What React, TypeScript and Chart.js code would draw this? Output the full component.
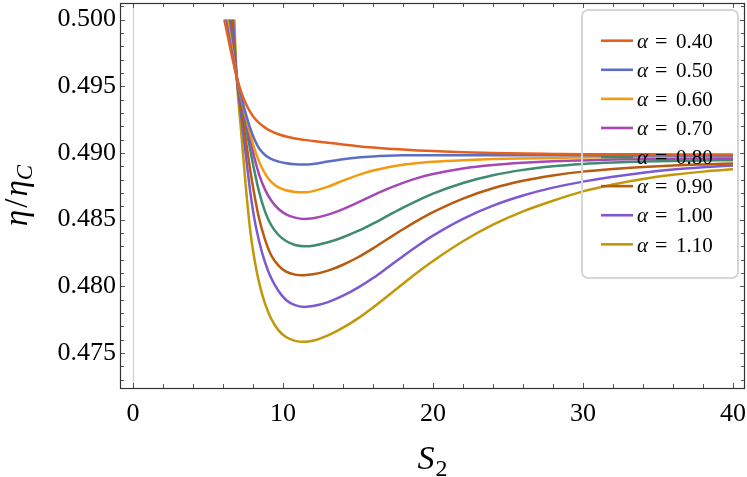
import React, { useEffect, useRef } from "react";
import { Chart, registerables } from "chart.js";

Chart.register(...registerables);

// ---- data ----
const alphaLabels = ["0.40", "0.50", "0.60", "0.70", "0.80", "0.90", "1.00", "1.10"];
const lineColors = ["#E4601E", "#5C6FC6", "#F39B0F", "#A548B5", "#3E8B6F", "#B85A10", "#7C58D4", "#C1980A"];

// S2 where each curve enters the plot at eta/eta_C = 0.500
const startS = [6.08, 6.18, 6.28, 6.38, 6.47, 6.56, 6.66, 6.75];
const START_ETA = 0.5;

// common S2 grid after the entry point
const sGrid = [6.91, 7.2, 7.5, 7.8, 8.1, 8.4, 8.8, 9.2, 9.7, 10.2, 10.8, 11.4, 12, 13, 14, 15, 16, 17, 18, 19, 20, 22, 24, 26, 28, 30, 32, 34, 36, 38, 40];

const eta040 = [0.4957, 0.4946, 0.49375, 0.4931, 0.4926, 0.49225, 0.4919, 0.49163, 0.4914, 0.49123, 0.49108, 0.49098, 0.4909, 0.49077, 0.49063, 0.4905, 0.4904, 0.49032, 0.49025, 0.49019, 0.49014, 0.49005, 0.48999, 0.48995, 0.48993, 0.48991, 0.4899, 0.4899, 0.48989, 0.48989, 0.48989];
const eta050 = [0.4957, 0.4943, 0.493, 0.4919, 0.491, 0.49035, 0.48985, 0.48955, 0.48935, 0.48923, 0.48915, 0.48913, 0.48918, 0.48936, 0.48953, 0.48966, 0.48974, 0.48979, 0.48982, 0.48983, 0.48983, 0.48983, 0.48983, 0.48982, 0.48982, 0.48982, 0.48982, 0.48981, 0.48981, 0.48981, 0.48981];
const eta060 = [0.4957, 0.4942, 0.4928, 0.4915, 0.4903, 0.48935, 0.48845, 0.48785, 0.48742, 0.4872, 0.48708, 0.48705, 0.48714, 0.48748, 0.48792, 0.48834, 0.48868, 0.48893, 0.48911, 0.48924, 0.48934, 0.48946, 0.48954, 0.48959, 0.48963, 0.48966, 0.48969, 0.48971, 0.48973, 0.48975, 0.48976];
const eta070 = [0.4957, 0.494, 0.4925, 0.491, 0.4896, 0.4884, 0.48725, 0.48645, 0.4858, 0.4854, 0.48515, 0.48505, 0.48511, 0.48538, 0.48579, 0.48629, 0.48682, 0.48732, 0.48776, 0.48813, 0.48842, 0.48884, 0.4891, 0.48926, 0.48937, 0.48944, 0.4895, 0.48954, 0.48957, 0.48959, 0.48961];
const eta080 = [0.4957, 0.4939, 0.4921, 0.4903, 0.4886, 0.4871, 0.4856, 0.4846, 0.48385, 0.4834, 0.4831, 0.48301, 0.48305, 0.4833, 0.48368, 0.48415, 0.4847, 0.4853, 0.4859, 0.48645, 0.48695, 0.48775, 0.48833, 0.48873, 0.489, 0.48917, 0.48928, 0.48935, 0.4894, 0.48943, 0.48946];
const eta090 = [0.4957, 0.4934, 0.4911, 0.4888, 0.4868, 0.4851, 0.4835, 0.48235, 0.48155, 0.4811, 0.48088, 0.48084, 0.4809, 0.48118, 0.48162, 0.48218, 0.48285, 0.48357, 0.48428, 0.48495, 0.48556, 0.48658, 0.48735, 0.48791, 0.48831, 0.4886, 0.4888, 0.48895, 0.48906, 0.48914, 0.48921];
const eta100 = [0.4957, 0.4929, 0.49, 0.4872, 0.485, 0.4834, 0.4818, 0.48065, 0.47965, 0.47898, 0.47859, 0.47846, 0.47852, 0.47882, 0.4793, 0.4799, 0.48062, 0.48143, 0.48226, 0.48306, 0.4838, 0.48506, 0.48605, 0.48681, 0.4874, 0.48785, 0.48822, 0.48852, 0.48875, 0.48892, 0.48906];
const eta110 = [0.4957, 0.4917, 0.4877, 0.4843, 0.482, 0.4803, 0.4787, 0.4776, 0.4767, 0.4762, 0.47591, 0.47584, 0.47592, 0.47632, 0.4769, 0.4776, 0.47842, 0.4793, 0.4802, 0.48108, 0.4819, 0.48338, 0.48462, 0.48562, 0.48642, 0.48712, 0.48764, 0.48805, 0.48836, 0.4886, 0.48877];

const etaSeries = [eta040, eta050, eta060, eta070, eta080, eta090, eta100, eta110];

const xTicks = [0, 10, 20, 30, 40];
const yTicks = [0.475, 0.48, 0.485, 0.49, 0.495, 0.5];

const X_MIN = -0.87;
const X_MAX = 40.8;
const Y_MIN = 0.47238;
const Y_MAX = 0.50124;

const SERIF = '"Liberation Serif", "Times New Roman", serif';

export default function App() {
  const ref = useRef<HTMLCanvasElement>(null);

  useEffect(() => {
    const canvas = ref.current;
    if (!canvas) return;

    const datasets = etaSeries.map((vals, i) => ({
      label: "α = " + alphaLabels[i],
      data: [{ x: startS[i], y: START_ETA }, ...sGrid.map((s, j) => ({ x: s, y: vals[j] }))],
      borderColor: lineColors[i],
      backgroundColor: lineColors[i],
      borderWidth: 2.5,
      pointRadius: 0,
      fill: false,
      cubicInterpolationMode: "monotone" as const,
    }));

    const decor = {
      id: "decor",
      beforeDatasetsDraw(chart: any) {
        const { ctx, chartArea: a, scales } = chart;
        const px = Math.round(scales.x.getPixelForValue(0)) + 0.5;
        ctx.save();
        ctx.strokeStyle = "#d0d0d0";
        ctx.lineWidth = 1.2;
        ctx.beginPath();
        ctx.moveTo(px, a.top);
        ctx.lineTo(px, a.bottom);
        ctx.stroke();
        ctx.restore();
      },
      afterDatasetsDraw(chart: any) {
        const { ctx, chartArea: a, scales } = chart;
        const xs = scales.x;
        const ys = scales.y;
        ctx.save();
        // ticks
        ctx.strokeStyle = "#555";
        ctx.lineWidth = 1;
        ctx.beginPath();
        for (let k = 0; k <= 20; k++) {
          const v = 2 * k;
          const len = v % 10 === 0 ? 5 : 4;
          const p = Math.round(xs.getPixelForValue(v)) + 0.5;
          ctx.moveTo(p, a.bottom);
          ctx.lineTo(p, a.bottom - len);
          ctx.moveTo(p, a.top);
          ctx.lineTo(p, a.top + len);
        }
        for (let k = 473; k <= 501; k++) {
          const v = k / 1000;
          const len = k % 5 === 0 ? 5 : 4;
          const p = Math.round(ys.getPixelForValue(v)) + 0.5;
          ctx.moveTo(a.left, p);
          ctx.lineTo(a.left + len, p);
          ctx.moveTo(a.right, p);
          ctx.lineTo(a.right - len, p);
        }
        ctx.stroke();
        // frame
        ctx.strokeStyle = "#333";
        ctx.lineWidth = 1.2;
        ctx.strokeRect(Math.round(a.left) + 0.5, Math.round(a.top) + 0.5, Math.round(a.right - a.left) - 1, Math.round(a.bottom - a.top));

        // legend
        ctx.strokeStyle = "#d6d6d6";
        ctx.lineWidth = 2;
        ctx.beginPath();
        (ctx as any).roundRect(582, 10, 156, 268, 6);
        ctx.stroke();
        for (let i = 0; i < alphaLabels.length; i++) {
          const y = 40.7 + i * 29.09;
          ctx.strokeStyle = lineColors[i];
          ctx.lineWidth = 2.6;
          ctx.beginPath();
          ctx.moveTo(601, y);
          ctx.lineTo(633, y);
          ctx.stroke();
          ctx.fillStyle = "#000";
          ctx.textBaseline = "alphabetic";
          ctx.textAlign = "left";
          ctx.font = "italic 21px " + SERIF;
          ctx.fillText("α", 637, y + 7.2);
          ctx.font = "22px " + SERIF;
          ctx.fillText("=", 655, y + 7.2);
          ctx.font = "21px " + SERIF;
          ctx.fillText(alphaLabels[i], 676, y + 7.2);
        }
        ctx.restore();
      },
      afterDraw(chart: any) {
        const { ctx, chartArea: a } = chart;
        ctx.save();
        ctx.fillStyle = "#000";
        ctx.textBaseline = "alphabetic";
        ctx.textAlign = "left";
        // x title: S_2
        const fMain = "italic 34px " + SERIF;
        const fSub = "24px " + SERIF;
        ctx.font = fMain;
        const wS = ctx.measureText("S").width;
        ctx.font = fSub;
        const w2 = ctx.measureText("2").width;
        const cx = (a.left + a.right) / 2;
        const x0 = cx - (wS + w2 + 1) / 2;
        ctx.font = fMain;
        ctx.fillText("S", x0, 469);
        ctx.font = fSub;
        ctx.fillText("2", x0 + wS + 1, 476);

        // y title: eta / eta_C
        const fEta = "italic 33px " + SERIF;
        const fSl = "33px " + SERIF;
        const fC = "italic 23px " + SERIF;
        ctx.font = fEta;
        const wEta = ctx.measureText("η").width;
        ctx.font = fSl;
        const wSl = ctx.measureText("/").width;
        ctx.font = fC;
        const wC = ctx.measureText("C").width;
        const total = wEta + 2 + wSl + 2 + wEta + wC;
        ctx.translate(27, (a.top + a.bottom) / 2);
        ctx.rotate(-Math.PI / 2);
        let p = -total / 2;
        ctx.font = fEta;
        ctx.fillText("η", p, 0);
        p += wEta + 2;
        ctx.font = fSl;
        ctx.fillText("/", p, 0);
        p += wSl + 2;
        ctx.font = fEta;
        ctx.fillText("η", p, 0);
        p += wEta;
        ctx.font = fC;
        ctx.fillText("C", p, 5);
        ctx.restore();
      },
    };

    const chart = new Chart(canvas, {
      type: "line",
      data: { datasets },
      options: {
        responsive: false,
        maintainAspectRatio: false,
        animation: false,
        devicePixelRatio: 1,
        layout: { padding: { left: 0, right: 2, top: 3, bottom: 0 } },
        plugins: {
          legend: { display: false },
          tooltip: { enabled: false },
          title: { display: false },
        },
        elements: { point: { radius: 0 } },
        scales: {
          x: {
            type: "linear",
            min: X_MIN,
            max: X_MAX,
            afterBuildTicks: (s: any) => {
              s.ticks = xTicks.map((v) => ({ value: v }));
            },
            afterFit: (s: any) => {
              s.height = 89;
              s.paddingLeft = 0;
              s.paddingRight = 0;
            },
            grid: { display: false, drawTicks: false },
            border: { display: false },
            ticks: {
              autoSkip: false,
              maxRotation: 0,
              padding: 11,
              color: "#000",
              font: { family: SERIF, size: 26 },
              callback: (v: any) => String(v),
            },
          },
          y: {
            type: "linear",
            min: Y_MIN,
            max: Y_MAX,
            afterBuildTicks: (s: any) => {
              s.ticks = yTicks.map((v) => ({ value: v }));
            },
            afterFit: (s: any) => {
              s.width = 120;
              s.paddingTop = 0;
              s.paddingBottom = 0;
            },
            grid: { display: false, drawTicks: false },
            border: { display: false },
            ticks: {
              autoSkip: false,
              padding: 4,
              color: "#000",
              font: { family: SERIF, size: 26 },
              callback: (v: any) => Number(v).toFixed(3),
            },
          },
        },
      },
      plugins: [decor],
    } as any);

    return () => chart.destroy();
  }, []);

  return (
    <div style={{ position: "absolute", left: 0, top: 0, width: 747, height: 477, background: "#fff" }}>
      <canvas ref={ref} width={747} height={477} style={{ display: "block", width: 747, height: 477 }} />
    </div>
  );
}
